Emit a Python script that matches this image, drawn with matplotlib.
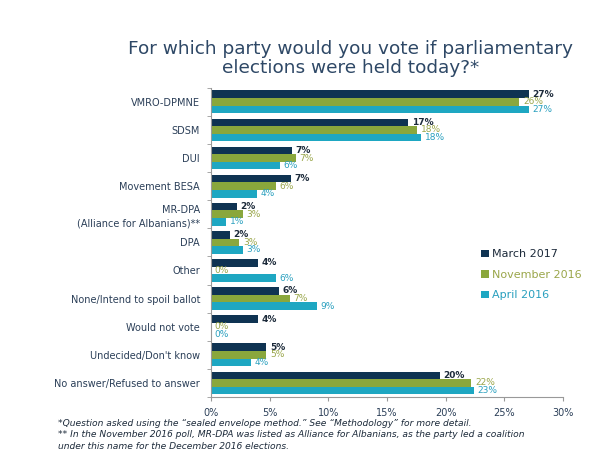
import numpy as np
import matplotlib
matplotlib.use("Agg")
import matplotlib.pyplot as plt

# data
categories = ["VMRO-DPMNE", "SDSM", "DUI", "Movement BESA",
              "MR-DPA\n(Alliance for Albanians)**", "DPA", "Other",
              "None/Intend to spoil ballot", "Would not vote",
              "Undecided/Don't know", "No answer/Refused to answer"]
series_names = ["March 2017", "November 2016", "April 2016"]
march_2017 = [27.1, 16.8, 6.9, 6.8, 2.2, 1.6, 4.0, 5.8, 4.0, 4.7, 19.5]
nov_2016 = [26.3, 17.6, 7.2, 5.5, 2.7, 2.4, 0.0, 6.7, 0.0, 4.7, 22.2]
apr_2016 = [27.1, 17.9, 5.9, 3.9, 1.3, 2.7, 5.5, 9.0, 0.0, 3.4, 22.4]
march_lbl = ["27%", "17%", "7%", "7%", "2%", "2%", "4%", "6%", "4%", "5%", "20%"]
nov_lbl = ["26%", "18%", "7%", "6%", "3%", "3%", "0%", "7%", "0%", "5%", "22%"]
apr_lbl = ["27%", "18%", "6%", "4%", "1%", "3%", "6%", "9%", "0%", "4%", "23%"]
xticks = [0, 5, 10, 15, 20, 25, 30]

colors = ["#0f3352", "#8aa73c", "#1ea7c2"]
txt_colors = ["#1c2a3a", "#9aa64a", "#2aa0bf"]
dark = "#2b3f58"

fig = plt.figure(figsize=(6.0, 4.67), dpi=100)
ax = fig.add_axes([0.352, 0.150, 0.586, 0.662])

y = np.arange(len(categories))
h = 0.27
all_vals = [march_2017, nov_2016, apr_2016]
all_lbls = [march_lbl, nov_lbl, apr_lbl]
for i, (vals, lbls) in enumerate(zip(all_vals, all_lbls)):
    pos = y + (i - 1) * h
    ax.barh(pos, vals, height=h, color=colors[i], label=series_names[i])
    for p, v, l in zip(pos, vals, lbls):
        ax.text(v + 0.3, p, l, va="center", ha="left", fontsize=6.5,
                color=txt_colors[i], fontweight="bold" if i == 0 else "normal")

ax.set_xlim(0, 30)
ax.set_ylim(len(categories) - 0.5, -0.5)
ax.set_xticks(xticks)
ax.set_xticklabels([f"{t}%" for t in xticks], fontsize=7, color=dark)
ax.set_yticks(y)
ax.set_yticklabels(categories, fontsize=7, color=dark, linespacing=1.4)
ax.set_yticks(np.arange(len(categories) + 1) - 0.5, minor=True)
ax.tick_params(axis="y", which="major", length=0, pad=8)
ax.tick_params(axis="y", which="minor", length=3, color="#999999")
ax.tick_params(axis="x", length=3, color="#999999", pad=5)
for s in ["top", "right"]:
    ax.spines[s].set_visible(False)
for s in ["left", "bottom"]:
    ax.spines[s].set_color("#999999")
    ax.spines[s].set_linewidth(0.8)

leg = ax.legend(loc="upper left", bbox_to_anchor=(0.74, 0.51), frameon=False,
                fontsize=8, handlelength=0.7, handleheight=0.7,
                handletextpad=0.3, labelspacing=0.95)
for t, c in zip(leg.get_texts(), txt_colors):
    t.set_color(c)

fig.text(0.585, 0.875, "For which party would you vote if parliamentary\n"
         "elections were held today?*", ha="center", va="center",
         fontsize=13.3, color="#2e4866", linespacing=1.1)

fig.text(0.097, 0.102, "*Question asked using the \u201csealed envelope method.\u201d "
         "See \u201cMethodology\u201d for more detail.\n"
         "** In the November 2016 poll, MR-DPA was listed as Alliance for Albanians, "
         "as the party led a coalition\nunder this name for the December 2016 elections.",
         ha="left", va="top", fontsize=6.6, style="italic", color="#1c2a3a",
         linespacing=1.3)

fig.savefig("out.png", dpi=100)
